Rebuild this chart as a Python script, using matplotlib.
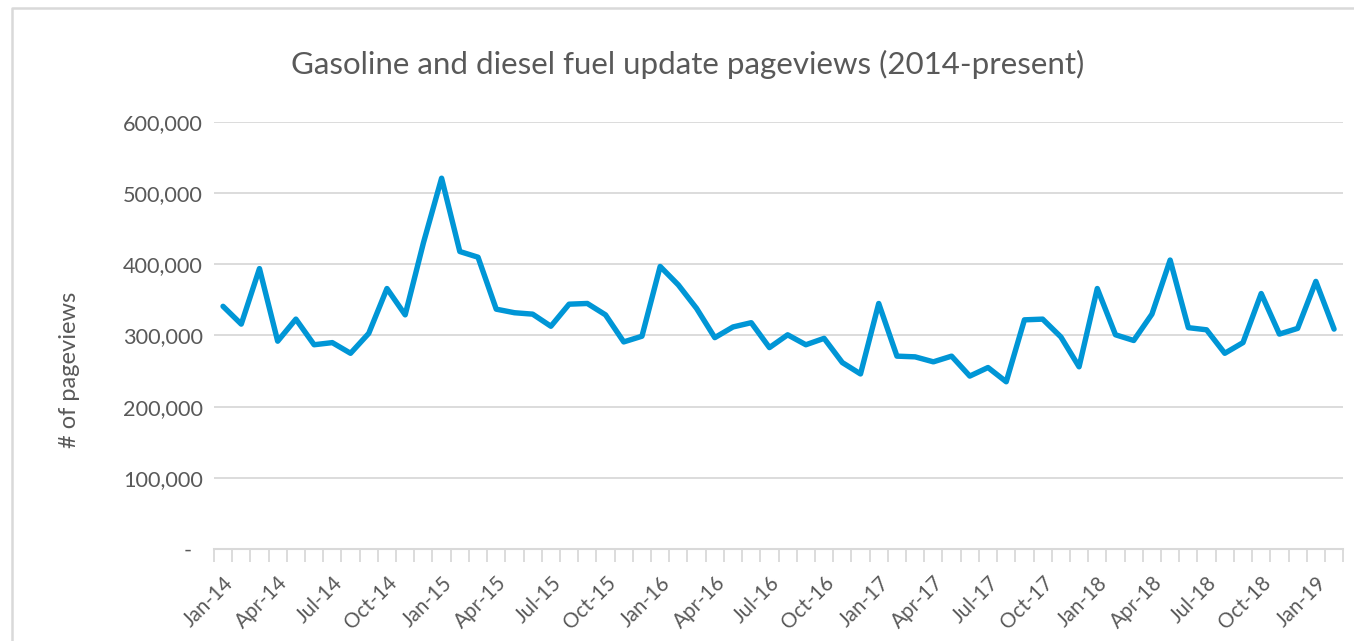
import matplotlib
matplotlib.use("Agg")
import matplotlib.pyplot as plt
from matplotlib.ticker import FuncFormatter, MultipleLocator, FixedLocator
from matplotlib.lines import Line2D

plt.rcParams['font.family'] = ['Lato', 'DejaVu Sans']

# monthly pageviews, Jan-14 .. Feb-19
months = ["Jan", "Feb", "Mar", "Apr", "May", "Jun",
          "Jul", "Aug", "Sep", "Oct", "Nov", "Dec"]
labels = [f"{m}-{y:02d}" for y in range(14, 20) for m in months][:62]
pageviews = [341000, 316000, 394000, 292000, 323000, 287000, 290000, 275000,
             303000, 366000, 329000, 430000, 521000, 418000, 410000, 337000,
             332000, 330000, 313000, 344000, 345000, 329000, 291000, 299000,
             397000, 371000, 338000, 297000, 312000, 318000, 283000, 301000,
             287000, 296000, 262000, 246000, 345000, 271000, 270000, 263000,
             271000, 243000, 255000, 235000, 322000, 323000, 298000, 256000,
             366000, 301000, 293000, 330000, 406000, 311000, 308000, 275000,
             290000, 359000, 302000, 310000, 376000, 309000]

GREY = "#595959"
GRID = "#D9D9D9"

fig = plt.figure(figsize=(13.54, 6.41), dpi=100)
ax = fig.add_axes([0.158, 0.1435, 0.834, 0.6662])

x = list(range(len(pageviews)))
ax.plot(x, pageviews, color="#0096D6", lw=3.9, solid_joinstyle="round",
        solid_capstyle="round", zorder=3)

ax.set_xlim(-0.5, len(pageviews) - 0.5)
ax.set_ylim(0, 600000)

# y axis
ax.yaxis.set_major_locator(MultipleLocator(100000))
ax.yaxis.set_major_formatter(FuncFormatter(
    lambda v, p: "-  " if v == 0 else f"{int(v):,}"))
ax.grid(axis="y", color=GRID, lw=1.3, zorder=0)
ax.tick_params(axis="y", length=0, pad=8, labelsize=15.6, labelcolor=GREY)

# x axis: labels every 3 months, ticks between categories
ax.xaxis.set_major_locator(FixedLocator(x[::3]))
ax.set_xticklabels(labels[::3], rotation=45, ha="right", va="top",
                   rotation_mode="anchor")
ax.xaxis.set_minor_locator(FixedLocator([i - 0.5 for i in range(len(x) + 1)]))
ax.tick_params(axis="x", which="major", length=0, pad=17, labelsize=14.8,
               labelcolor=GREY)
ax.tick_params(axis="x", which="minor", length=9, width=1.3, color=GRID,
               direction="out")

for s in ["top", "right", "left"]:
    ax.spines[s].set_visible(False)
ax.spines["bottom"].set_color(GRID)
ax.spines["bottom"].set_linewidth(1.5)

fig.text(0.508, 0.899, "Gasoline and diesel fuel update pageviews (2014-present)",
         ha="center", va="center", fontsize=22.5, color=GREY)
fig.text(0.051, 0.423, "# of pageviews", rotation=90, ha="center", va="center",
         fontsize=17, color=GREY)

# chart area border (left and top edges visible)
fig.add_artist(Line2D([12 / 1354, 12 / 1354, 1.0], [0.0, 1 - 8 / 641, 1 - 8 / 641],
                      transform=fig.transFigure, color=GRID, lw=1.8))

fig.savefig("out.png", dpi=100)
